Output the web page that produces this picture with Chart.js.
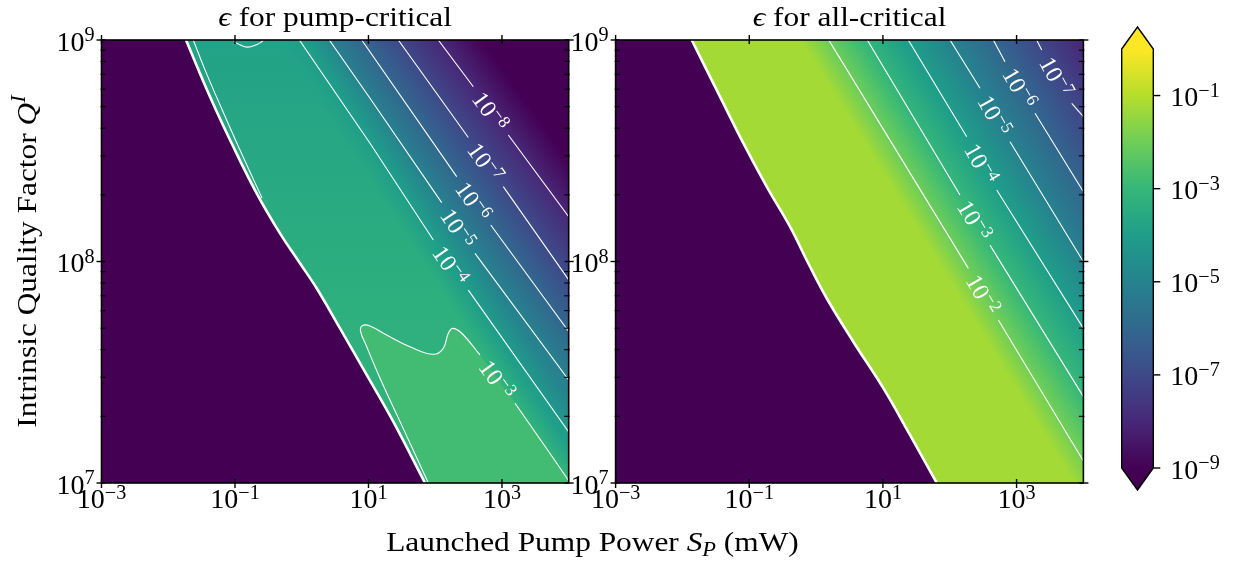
<!DOCTYPE html>
<html>
<head>
<meta charset="utf-8">
<title>epsilon maps</title>
<script src="https://cdn.jsdelivr.net/npm/chart.js@4.4.1/dist/chart.umd.min.js"></script>
<style>
  html, body { margin: 0; padding: 0; background: #fff; }
  #fig { position: relative; width: 1236px; height: 565px; overflow: hidden; }
  #fig canvas { position: absolute; left: 0; top: 0; }
</style>
</head>
<body>
<div id="fig">
  <canvas id="pumpChart" width="1236" height="565"></canvas>
  <canvas id="allChart" width="1236" height="565"></canvas>
  <canvas id="barChart" width="1236" height="565"></canvas>
</div>
<script>
// ---------------------------------------------------------------------------
// Two log-log maps of epsilon (pump-critical / all-critical) with labelled
// contour lines, plus a shared viridis colour bar. Three Chart.js charts are
// stacked on one another; each owns one plot box of the figure.
// ---------------------------------------------------------------------------

// ===== data =====
const SP_RANGE = [1e-3, 1e4];   // launched pump power S_P (mW)
const Q_RANGE = [1e7, 1e9];     // intrinsic quality factor Q^I
const EPS_RANGE = [1e-9, 1];    // colour scale of epsilon

const SP_TICKS = [-3, -1, 1, 3];          // labelled exponents
const Q_TICKS = [7, 8, 9];
const Q_MINOR = [2e7, 3e7, 4e7, 5e7, 6e7, 7e7, 8e7, 9e7,
                 2e8, 3e8, 4e8, 5e8, 6e8, 7e8, 8e8, 9e8];
const EPS_TICKS = [-9, -7, -5, -3, -1];

// contours as [log10 S_P, log10 Q]; a null marks the break for the label

// --- pump-critical ---
const PUMP_EDGE = [[-1.734, 9.0], [-1.374, 8.744], [-1.025, 8.518], [-0.675, 8.308],
  [-0.325, 8.127], [-0.026, 7.992], [0.224, 7.879], [0.574, 7.698], [0.974, 7.488],
  [1.372, 7.277], [1.847, 7.0]];
const PUMP_EDGE_2 = [[-1.625, 9.0], [-1.449, 8.865], [-1.224, 8.707], [-0.925, 8.503],
  [-0.595, 8.287]];
const PUMP_TOP_LOOP = [[-1.025, 9.0], [-0.974, 8.985], [-0.82, 8.968], [-0.675, 8.979],
  [-0.6, 8.992], [-0.576, 9.0]];
const PUMP_C3 = [[1.897, 7.0], [1.473, 7.277], [1.173, 7.473], [0.963, 7.623],
  [0.881, 7.686], [0.911, 7.711], [1.023, 7.709], [1.273, 7.668], [1.622, 7.615],
  [1.972, 7.581], [2.121, 7.608], [2.196, 7.676], [2.262, 7.698], [2.397, 7.676],
  [2.671, 7.578], null, [3.196, 7.36], [4.0, 7.01]];
const PUMP_C4 = [[-0.036, 9.0], [1.023, 8.534], [1.972, 8.097], null, [2.496, 7.871], [4.0, 7.23]];
const PUMP_C5 = [[0.413, 9.0], [1.023, 8.737], [2.097, 8.266], null, [2.596, 8.037], [4.0, 7.465]];
const PUMP_C6 = [[0.899, 9.0], [2.322, 8.383], null, [2.832, 8.165], [4.0, 7.684]];
const PUMP_C7 = [[1.447, 9.0], [2.496, 8.56], null, [3.02, 8.338], [4.0, 7.917]];
const PUMP_C8 = [[2.046, 9.0], [2.571, 8.789], null, [3.095, 8.571], [4.0, 8.202]];
const PUMP_LEVELS = [-4, -5, -6, -7, -8];       // PUMP_C4 .. PUMP_C8
const PUMP_LOBE_LEVEL = -3;                     // PUMP_C3
const PUMP_PLATEAU = [-3.85, -3.4, -3.05];      // log10 eps left of 1e-4, top -> bottom
const PUMP_LOBE_FILL = -2.78;                   // inside the 1e-3 lobe

// --- all-critical ---
const ALL_EDGE = [[-1.861, 9.0], [-1.438, 8.744], [-1.089, 8.534], [-0.739, 8.338],
  [-0.39, 8.157], [-0.117, 7.992], [0.159, 7.834], [0.557, 7.638], [1.006, 7.428],
  [1.405, 7.217], [1.805, 7.0]];
const ALL_C2 = [[0.189, 9.0], [0.358, 8.917], [2.278, 7.969], null, [2.727, 7.736], [4.0, 7.099]];
const ALL_C3 = [[0.766, 9.0], [2.153, 8.3], null, [2.602, 8.074], [4.0, 7.39]];
const ALL_C4 = [[1.38, 9.0], [2.254, 8.563], null, [2.703, 8.323], [4.0, 7.698]];
const ALL_C5 = [[2.004, 9.0], [2.453, 8.782], null, [2.902, 8.541], [4.0, 7.999]];
const ALL_C6 = [[2.652, 9.0], [2.827, 8.902], null, [3.276, 8.669], [4.0, 8.315]];
const ALL_C7 = [[3.301, 9.0], [3.376, 8.955], null, [3.825, 8.714], [4.0, 8.654]];
const ALL_LEVELS = [-2, -3, -4, -5, -6, -7];    // ALL_C2 .. ALL_C7
const ALL_PLATEAU = -1.25;                      // log10 eps left of 1e-2
// ======================================

// --- layout of the figure (pixels) ---
const W = 1236, H = 565;
const PUMP_BOX = [101.5, 568.7];
const ALL_BOX = [615.6, 1083.4];
const PLOT_TOP = 40, PLOT_BOTTOM = 483;
const CBAR_BOX = [1121.7, 1153.3, 49, 468];     // left, right, top, bottom

const FONT = "'Liberation Serif', 'DejaVu Serif', serif";
const WORD_STRETCH = 1.12;                      // Times is narrower than CM
const TENSION = 0.4;

// --- small helpers -----------------------------------------------------------

const $ = (id) => document.getElementById(id);

const VIRIDIS = ["#440154", "#482878", "#3e4989", "#31688e", "#26828e",
  "#1f9e89", "#35b779", "#6ece58", "#b5de2b", "#fde725"];
const VIR_RGB = VIRIDIS.map((h) => [1, 3, 5].map((i) => parseInt(h.substr(i, 2), 16)));

// colour for log10(eps) on the bar's 1e-9 .. 1 scale
function viridis(v, a = 1) {
  const t = Math.max(0, Math.min(1, (v + 9) / 9)) * 9;
  const i = Math.min(8, Math.floor(t)), f = t - i;
  const c = VIR_RGB[i].map((c0, k) => Math.round(c0 + (VIR_RGB[i + 1][k] - c0) * f));
  return `rgba(${c[0]},${c[1]},${c[2]},${a})`;
}

const LX1 = Math.log10(SP_RANGE[1]);
const LY0 = Math.log10(Q_RANGE[0]), LY1 = Math.log10(Q_RANGE[1]);
const CORNER_TR = [LX1, LY1], CORNER_BR = [LX1, LY0];

const toPoint = (p) => (p ? { x: 10 ** p[0], y: 10 ** p[1] } : { x: NaN, y: NaN });
const toPx = (chart, p) => ({
  x: chart.scales.x.getPixelForValue(10 ** p[0]),
  y: chart.scales.y.getPixelForValue(10 ** p[1]),
});

// where a contour's label goes: middle of its break, turned along the line
function anchorOf(chart, curve) {
  const i = curve.indexOf(null);
  if (i > 0) {
    const a = toPx(chart, curve[i - 1]), b = toPx(chart, curve[i + 1]);
    return { x: (a.x + b.x) / 2, y: (a.y + b.y) / 2, angle: Math.atan2(b.y - a.y, b.x - a.x) };
  }
  return { ...toPx(chart, curve[Math.floor(curve.length / 2)]), angle: 0 };
}

function nearestOn(chart, curve, p) {
  const pts = curve.filter(Boolean).map((q) => toPx(chart, q));
  let best = pts[0], bd = Infinity;
  for (let i = 0; i < pts.length - 1; i++) {
    const a = pts[i], b = pts[i + 1];
    const dx = b.x - a.x, dy = b.y - a.y;
    const t = Math.max(0, Math.min(1, ((p.x - a.x) * dx + (p.y - a.y) * dy) / (dx * dx + dy * dy)));
    const q = { x: a.x + t * dx, y: a.y + t * dy };
    const d = Math.hypot(q.x - p.x, q.y - p.y);
    if (d < bd) { bd = d; best = q; }
  }
  return best;
}

// region beyond contour i shades from its level to one decade lower
function bandFill(curves, levels, i) {
  return (ctx) => {
    const chart = ctx.chart;
    if (!chart.chartArea) return viridis(levels[i]);
    const p0 = anchorOf(chart, curves[i]);
    let q;
    if (i + 1 < curves.length) q = nearestOn(chart, curves[i + 1], p0);
    else {
      const r = nearestOn(chart, curves[i - 1], p0);
      q = { x: 2 * p0.x - r.x, y: 2 * p0.y - r.y };
    }
    const g = chart.ctx.createLinearGradient(p0.x, p0.y, q.x, q.y);
    g.addColorStop(0, viridis(levels[i]));
    g.addColorStop(1, viridis(levels[i] - 1));
    return g;
  };
}

// soft run-up from the plateau into the first contour's colour
function edgeBlend(curves, levels, reach) {
  return (ctx) => {
    const chart = ctx.chart;
    if (!chart.chartArea) return "rgba(0,0,0,0)";
    const p0 = anchorOf(chart, curves[0]);
    const r = nearestOn(chart, curves[1], p0);
    const s = { x: p0.x - reach * (r.x - p0.x), y: p0.y - reach * (r.y - p0.y) };
    const g = chart.ctx.createLinearGradient(s.x, s.y, p0.x, p0.y);
    g.addColorStop(0, viridis(levels[0], 0));
    g.addColorStop(1, viridis(levels[0], 1));
    return g;
  };
}

const polygon = (curve, corners) => [...curve.filter(Boolean), ...corners].map(toPoint);

const fillSet = (data, color, extra = {}) => ({
  data, fill: "shape", showLine: true, borderWidth: 0, borderColor: "rgba(0,0,0,0)",
  backgroundColor: color, pointRadius: 0, clip: 0, ...extra,
});
const lineSet = (curve, width, extra = {}) => ({
  data: curve.map(toPoint), fill: false, showLine: true, borderWidth: width,
  borderColor: "#ffffff", pointRadius: 0, clip: 0, ...extra,
});

// smoothed line that runs on through the closing corners, drawn invisibly there,
// so it sits exactly on the edge of the matching (smoothed) filled shape
function closedLine(curve, corners, width) {
  const n = curve.length;
  return lineSet([...curve, ...corners], width, {
    tension: TENSION,
    segment: { borderColor: (c) => (c.p1DataIndex < n ? "#ffffff" : "rgba(0,0,0,0)") },
  });
}

// first entry is drawn first
function ordered(list) {
  return list.map((d, i) => ({ ...d, order: list.length - i }));
}

// --- text with raised / lowered runs ----------------------------------------

const fontOf = (r) => `${r.italic ? "italic " : ""}${r.size}px ${FONT}`;

function drawRuns(ctx, runs, x, y, align = "left", hs = 1) {
  ctx.save();
  ctx.translate(x, y);
  ctx.scale(hs, 1);
  ctx.textAlign = "left";
  ctx.textBaseline = "alphabetic";
  const widths = runs.map((r) => { ctx.font = fontOf(r); return ctx.measureText(r.t).width + (r.pad || 0); });
  const w = widths.reduce((s, v) => s + v, 0);
  let cx = align === "center" ? -w / 2 : align === "right" ? -w : 0;
  runs.forEach((r, i) => { ctx.font = fontOf(r); ctx.fillText(r.t, cx, r.dy || 0); cx += widths[i]; });
  ctx.restore();
}

const pow10 = (e, size = 28) => [
  { t: "10", size },
  { t: (e < 0 ? "\u2212" : "") + Math.abs(e), size: size * 0.72, dy: -size * 0.33 },
];

// --- panel drawing -----------------------------------------------------------

function drawFrame(chart) {
  const { ctx, chartArea: a, scales: { x, y } } = chart;
  const seg = (x1, y1, x2, y2) => { ctx.beginPath(); ctx.moveTo(x1, y1); ctx.lineTo(x2, y2); ctx.stroke(); };
  ctx.save();
  ctx.strokeStyle = "#000";
  ctx.lineWidth = 1.6;
  ctx.strokeRect(a.left, a.top, a.width, a.height);
  ctx.lineWidth = 1.4;
  SP_TICKS.forEach((e) => {
    const px = x.getPixelForValue(10 ** e);
    seg(px, a.bottom - 4, px, a.bottom + 5);
    seg(px, a.top - 5, px, a.top + 4);
  });
  Q_TICKS.forEach((e) => {
    const py = y.getPixelForValue(10 ** e);
    seg(a.left - 5, py, a.left + 4, py);
    seg(a.right - 4, py, a.right + 5, py);
  });
  ctx.lineWidth = 1.1;
  Q_MINOR.forEach((v) => {
    const py = y.getPixelForValue(v);
    seg(a.left - 1, py, a.left + 4.5, py);
    seg(a.right - 4.5, py, a.right + 1, py);
  });
  ctx.fillStyle = "#000";
  SP_TICKS.forEach((e) => drawRuns(ctx, pow10(e), x.getPixelForValue(10 ** e), a.bottom + 25, "center"));
  Q_TICKS.forEach((e) => drawRuns(ctx, pow10(e), a.left - 7, y.getPixelForValue(10 ** e) + 10.5, "right"));
  ctx.restore();
}

function panelPlugin(panel) {
  return {
    id: "panel_" + panel.key,
    beforeDatasetsDraw(chart) {
      const { ctx, chartArea: a } = chart;
      ctx.save();
      ctx.fillStyle = viridis(-9);
      ctx.fillRect(a.left, a.top, a.width, a.height);
      ctx.restore();
    },
    afterDatasetsDraw(chart) {
      const { ctx, chartArea: a } = chart;
      ctx.save();
      ctx.fillStyle = "#ffffff";
      panel.labelled.forEach(([curve, level]) => {
        const p = anchorOf(chart, curve);
        ctx.save();
        ctx.translate(p.x, p.y);
        ctx.rotate(p.angle);
        drawRuns(ctx, pow10(level, 24), 0, 9, "center");
        ctx.restore();
      });
      ctx.restore();
      drawFrame(chart);
      ctx.save();
      ctx.fillStyle = "#000";
      drawRuns(ctx, [{ t: "\u03f5", size: 28, italic: true }, { t: panel.title, size: 28 }],
        (a.left + a.right) / 2, 25.5, "center", WORD_STRETCH);
      ctx.restore();
    },
  };
}

function makePanel(canvasId, panel, datasets) {
  return new Chart($(canvasId), {
    type: "scatter",
    data: { datasets: ordered(datasets) },
    options: {
      responsive: false, animation: false, devicePixelRatio: 1, events: [],
      layout: { padding: { left: panel.box[0], right: W - panel.box[1], top: PLOT_TOP, bottom: H - PLOT_BOTTOM } },
      scales: {
        x: { type: "logarithmic", min: SP_RANGE[0], max: SP_RANGE[1], display: false },
        y: { type: "logarithmic", min: Q_RANGE[0], max: Q_RANGE[1], display: false },
      },
      elements: { point: { radius: 0 } },
      plugins: { legend: { display: false }, tooltip: { enabled: false } },
    },
    plugins: [panelPlugin(panel)],
  });
}

// --- pump-critical panel -------------------------------------------------------

const PUMP_CURVES = [PUMP_C4, PUMP_C5, PUMP_C6, PUMP_C7, PUMP_C8];

function pumpPlateau(ctx) {
  const chart = ctx.chart, a = chart.chartArea;
  if (!a) return viridis(PUMP_PLATEAU[0]);
  const g = chart.ctx.createLinearGradient(0, a.top, 0, a.bottom);
  PUMP_PLATEAU.forEach((v, i) => g.addColorStop(i / (PUMP_PLATEAU.length - 1), viridis(v)));
  return g;
}

// the edge fill keeps straight chords; the white edge line on top is smoothed
const pumpEdgePoly = polygon(PUMP_EDGE, [CORNER_BR, CORNER_TR]);
makePanel("pumpChart", {
  key: "pump", title: " for pump-critical", box: PUMP_BOX,
  labelled: [[PUMP_C3, PUMP_LOBE_LEVEL], ...PUMP_CURVES.map((c, i) => [c, PUMP_LEVELS[i]])],
}, [
  fillSet(pumpEdgePoly, pumpPlateau),
  fillSet(pumpEdgePoly, edgeBlend(PUMP_CURVES, PUMP_LEVELS, 0.8)),
  fillSet(polygon(PUMP_C3, [CORNER_BR]), viridis(PUMP_LOBE_FILL), { tension: TENSION }),
  ...PUMP_CURVES.map((c, i) => fillSet(polygon(c, [CORNER_TR]), bandFill(PUMP_CURVES, PUMP_LEVELS, i))),
  lineSet(PUMP_EDGE, 2.6, { tension: TENSION }),
  lineSet(PUMP_EDGE_2, 1.1, { tension: TENSION }),
  lineSet(PUMP_TOP_LOOP, 1.1, { tension: TENSION }),
  closedLine(PUMP_C3, [CORNER_BR], 1.1),
  ...PUMP_CURVES.map((c) => lineSet(c, 1.1)),
]);

// --- all-critical panel ----------------------------------------------------------

const ALL_CURVES = [ALL_C2, ALL_C3, ALL_C4, ALL_C5, ALL_C6, ALL_C7];
const allEdgePoly = polygon(ALL_EDGE, [CORNER_BR, CORNER_TR]);
makePanel("allChart", {
  key: "all", title: " for all-critical", box: ALL_BOX,
  labelled: ALL_CURVES.map((c, i) => [c, ALL_LEVELS[i]]),
}, [
  fillSet(allEdgePoly, viridis(ALL_PLATEAU)),
  fillSet(allEdgePoly, edgeBlend(ALL_CURVES, ALL_LEVELS, 0.7)),
  ...ALL_CURVES.map((c, i) => fillSet(polygon(c, [CORNER_TR]), bandFill(ALL_CURVES, ALL_LEVELS, i))),
  lineSet(ALL_EDGE, 2.6, { tension: TENSION }),
  ...ALL_CURVES.map((c) => lineSet(c, 1.1)),
]);

// --- colour bar + figure labels ------------------------------------------------

function barGradient(ctx) {
  const chart = ctx.chart, a = chart.chartArea;
  if (!a) return VIRIDIS[5];
  const g = chart.ctx.createLinearGradient(0, a.bottom, 0, a.top);
  VIRIDIS.forEach((c, i) => g.addColorStop(i / (VIRIDIS.length - 1), c));
  return g;
}

const colourBarPlugin = {
  id: "colourBar",
  afterDatasetsDraw(chart) {
    const { ctx, chartArea: a, scales: { y } } = chart;
    const cx = (a.left + a.right) / 2, tip = 22;
    ctx.save();
    ctx.fillStyle = VIRIDIS[VIRIDIS.length - 1];
    ctx.beginPath(); ctx.moveTo(a.left, a.top); ctx.lineTo(cx, a.top - tip); ctx.lineTo(a.right, a.top); ctx.closePath(); ctx.fill();
    ctx.fillStyle = VIRIDIS[0];
    ctx.beginPath(); ctx.moveTo(a.left, a.bottom); ctx.lineTo(cx, a.bottom + tip); ctx.lineTo(a.right, a.bottom); ctx.closePath(); ctx.fill();
    ctx.strokeStyle = "#000";
    ctx.lineWidth = 1.4;
    ctx.beginPath();
    ctx.moveTo(a.left, a.top); ctx.lineTo(cx, a.top - tip); ctx.lineTo(a.right, a.top);
    ctx.lineTo(a.right, a.bottom); ctx.lineTo(cx, a.bottom + tip); ctx.lineTo(a.left, a.bottom);
    ctx.closePath(); ctx.stroke();
    ctx.fillStyle = "#000";
    EPS_TICKS.forEach((e) => {
      const py = y.getPixelForValue(10 ** e);
      ctx.beginPath(); ctx.moveTo(a.right, py); ctx.lineTo(a.right + 7, py); ctx.stroke();
      drawRuns(ctx, pow10(e), a.right + 17, py + 10.5, "left");
    });
    ctx.restore();
  },
};

const figureTextPlugin = {
  id: "figureText",
  afterDraw(chart) {
    const ctx = chart.ctx;
    ctx.save();
    ctx.fillStyle = "#000";
    drawRuns(ctx, [
      { t: "Launched Pump Power ", size: 28 },
      { t: "S", size: 28, italic: true },
      { t: "P", size: 20, italic: true, dy: 5, pad: 7 },
      { t: "(mW)", size: 28 },
    ], (PUMP_BOX[0] + ALL_BOX[1]) / 2, 551, "center", WORD_STRETCH);
    ctx.translate(36, (PLOT_TOP + PLOT_BOTTOM) / 2);
    ctx.rotate(-Math.PI / 2);
    drawRuns(ctx, [
      { t: "Intrinsic Quality Factor ", size: 28 },
      { t: "Q", size: 28, italic: true },
      { t: "I", size: 20, italic: true, dy: -11 },
    ], 0, 0, "center", WORD_STRETCH);
    ctx.restore();
  },
};

new Chart($("barChart"), {
  type: "bar",
  data: {
    labels: ["\u03f5"],
    datasets: [{ data: [EPS_RANGE], backgroundColor: barGradient, borderWidth: 0,
      barPercentage: 1, categoryPercentage: 1 }],
  },
  options: {
    responsive: false, animation: false, devicePixelRatio: 1, events: [],
    layout: { padding: { left: CBAR_BOX[0], right: W - CBAR_BOX[1], top: CBAR_BOX[2], bottom: H - CBAR_BOX[3] } },
    scales: {
      x: { display: false },
      y: { type: "logarithmic", min: EPS_RANGE[0], max: EPS_RANGE[1], display: false },
    },
    plugins: { legend: { display: false }, tooltip: { enabled: false } },
  },
  plugins: [colourBarPlugin, figureTextPlugin],
});
</script>
</body>
</html>
